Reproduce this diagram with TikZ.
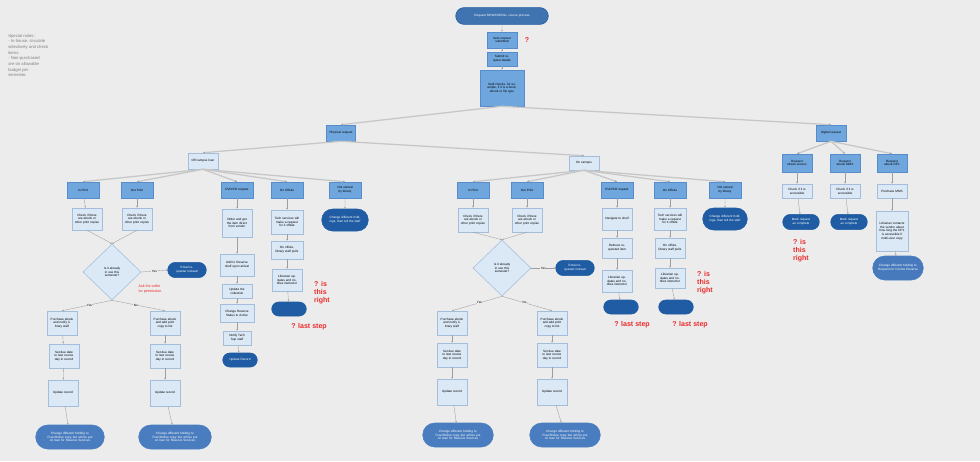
\documentclass[tikz,border=0pt]{standalone}
\usepackage{fontspec}
\setmainfont{Liberation Sans}
\usepackage{xcolor}
\usetikzlibrary{shapes.geometric}
\usetikzlibrary{shapes.misc}
\usetikzlibrary{arrows.meta}
\definecolor{paper}{rgb}{0.925,0.925,0.925}
\definecolor{catblue}{rgb}{0.44,0.65,0.87}
\definecolor{catedge}{rgb}{0.34,0.55,0.80}
\definecolor{stepfill}{rgb}{0.86,0.91,0.96}
\definecolor{stepedge}{rgb}{0.64,0.74,0.86}
\definecolor{darkpill}{rgb}{0.12,0.36,0.64}
\definecolor{midpill}{rgb}{0.29,0.49,0.75}
\definecolor{wire}{rgb}{0.62,0.62,0.62}
\definecolor{trunkgray}{rgb}{0.78,0.78,0.78}
\definecolor{askred}{rgb}{0.93,0.16,0.16}
\newcommand{\flowfont}{\fontsize{2.2}{2.7}\selectfont}
\tikzset{%
  catbox/.style={rectangle, draw=catedge, fill=catblue, font=\flowfont, align=center, text width=0.68cm, inner sep=0.5pt, minimum width=0.8cm, minimum height=0.4cm},
  stepbox/.style={rectangle, draw=stepedge, fill=stepfill, font=\flowfont, align=center, text width=0.66cm, inner sep=0.5pt, minimum width=0.75cm, minimum height=0.55cm},
  endpill/.style={rounded rectangle, draw=darkpill, fill=darkpill, text=white, font=\flowfont, align=center, text width=0.75cm, inner sep=0.5pt, minimum width=0.9cm, minimum height=0.35cm},
  bigpill/.style={rounded rectangle, draw=midpill, fill=midpill, text=white, font=\flowfont, align=center, text width=1.45cm, inner sep=0.5pt, minimum width=1.8cm, minimum height=0.6cm},
  decision/.style={diamond, draw=stepedge, fill=stepfill, font=\flowfont, align=center, text width=0.5cm, inner sep=0pt, minimum width=1.45cm, minimum height=1.4cm},
  branch/.style={font=\flowfont, fill=paper, inner sep=0.3pt},
  askmark/.style={text=askred, font=\fontsize{5}{5.6}\selectfont\bfseries, align=left, inner sep=0pt},
  flow/.style={draw=wire, line width=0.25pt, -{Stealth[length=1.3pt,width=1.1pt]}},
  trunk/.style={draw=trunkgray, line width=0.9pt, -{Stealth[length=1.6pt,width=1.4pt,color=wire]}}
}
\begin{document}
\begin{tikzpicture}[x=0.025cm, y=-0.025cm]
        \fill [paper] (0,0) rectangle (980,461);
        \useasboundingbox (0,0) rectangle (980,461);

        % note in the corner
        \node [anchor=north west, text=gray, font=\fontsize{3}{4}\selectfont, align=left, inner sep=0pt] (memo) at (8,34)
          {Special notes:\\- In-house, circulate\\selectively and check\\items.\\- Non-purchased\\are on allowable\\budget per\\semester.};

        % top of the tree
        \node [endpill, fill=darkpill!85!white, minimum width=2.35cm, minimum height=0.42cm, text width=2.1cm] (req) at (502,16) {Request ROW/CMS/ILL course process};
        \node [catbox, minimum width=0.75cm] (recv) at (502,40) {Item request submitted};
        \node [askmark] (askrecv) at (527,40) {?};
        \node [catbox, minimum width=0.75cm, minimum height=0.35cm] (subm) at (502,59) {Submit request details};
        \node [catbox, minimum width=1.1cm, minimum height=0.9cm, text width=0.95cm] (check) at (502,88) {Staff checks, for example, if it is a book, ebook or file type};
        \node [catbox, minimum width=0.7cm] (phys) at (341,133) {Physical request};
        \node [catbox, minimum width=0.75cm] (digi) at (831,133) {Digital request};

        % physical, off campus
        \node [stepbox, minimum height=0.4cm] (far) at (203,161) {Off campus loan};
        \node [catbox] (fprint) at (83,190) {In Print};
        \node [catbox] (fout) at (137,190) {Out Print};
        \node [catbox] (fdvd) at (237,190) {DVD/CD request};
        \node [catbox] (fsite) at (287,190) {On Offsite};
        \node [catbox] (fnone) at (345,190) {Not owned by library};

        \node [stepbox] (fprint1) at (87,219) {Check if there are ebook or other print copies};
        \node [stepbox] (fout1) at (137,219) {Check if there are ebook or other print copies};
        \node [decision] (fask) at (112,272) {Is it already in use this semester?};
        \node [endpill, minimum width=1.0cm, minimum height=0.38cm] (fmail) at (187,270) {Email requester instead};
        \node [text=askred, font=\fontsize{2.6}{3.8}\selectfont, align=left, inner sep=0pt] (fseller) at (150,289) {Ask the seller\\for permission};

        \node [stepbox, minimum height=0.6cm] (fl1) at (62,323) {Purchase ebook and notify library staff};
        \node [stepbox, minimum height=0.6cm] (fl2) at (64,356) {Set due date to last course day in record};
        \node [stepbox, minimum height=0.65cm] (fl3) at (63,393) {Update record};
        \node [bigpill, minimum width=1.75cm] (fl4) at (70,437) {Change different holding to Free/Online copy, but will be put on loan for Reserve Services};
        \node [stepbox, minimum height=0.6cm] (fr1) at (165,323) {Purchase ebook and add print copy to list};
        \node [stepbox, minimum height=0.6cm] (fr2) at (165,356) {Set due date to last course day in record};
        \node [stepbox, minimum height=0.65cm] (fr3) at (165,393) {Update record};
        \node [bigpill, minimum width=1.85cm] (fr4) at (175,437) {Change different holding to Free/Online copy, but will be put on loan for Reserve Services};

        \node [stepbox, minimum height=0.7cm] (fd1) at (237,223) {Order and get the item direct from vendor};
        \node [stepbox, minimum width=0.85cm, text width=0.75cm] (fd2) at (237,265) {Add to Reserve shelf upon arrival};
        \node [stepbox, minimum height=0.35cm] (fd3) at (237,291) {Update the collection};
        \node [stepbox, minimum width=0.85cm, text width=0.75cm, minimum height=0.45cm] (fd4) at (237,313) {Change Reserve Status to Active};
        \node [stepbox, minimum width=0.7cm, minimum height=0.35cm] (fd5) at (237,338) {Notify Tech Sup staff};
        \node [endpill] (fd6) at (240,360) {Update Record};

        \node [stepbox, minimum width=0.8cm, minimum height=0.6cm] (fs1) at (287,222) {Tech services will make a request for it offsite};
        \node [stepbox, minimum width=0.8cm, minimum height=0.45cm] (fs2) at (287,250) {On offsite, library staff pulls};
        \node [stepbox] (fs3) at (287,280) {Librarian updates and notifies instructor};
        \node [endpill] (fs4) at (289,309) {};
        \node [askmark] (fsright) at (322,293) {? is\\this\\right};
        \node [askmark] (fslast) at (309,327) {? last step};

        \node [endpill, minimum width=1.2cm, minimum height=0.55cm, text width=1.0cm] (fn1) at (345,220) {Change different holdings, then tell the staff};

        % physical, on campus
        \node [stepbox, minimum height=0.35cm] (near) at (584,163) {On campus};
        \node [catbox] (nprint) at (473,190) {In Print};
        \node [catbox] (nout) at (527,190) {Out Print};
        \node [catbox] (ndvd) at (617,190) {DVD/CD request};
        \node [catbox] (nsite) at (670,190) {On Offsite};
        \node [catbox] (nnone) at (725,190) {Not owned by library};

        \node [stepbox, minimum height=0.6cm] (nprint1) at (473,220) {Check if there are ebook or other print copies};
        \node [stepbox, minimum height=0.6cm] (nout1) at (527,220) {Check if there are ebook or other print copies};
        \node [decision] (nask) at (502,268) {Is it already in use this semester?};
        \node [endpill, minimum width=1.0cm, minimum height=0.38cm] (nmail) at (575,268) {Email requester instead};

        \node [stepbox, minimum height=0.6cm] (nl1) at (452,323) {Purchase ebook and notify library staff};
        \node [stepbox, minimum height=0.6cm] (nl2) at (452,355) {Set due date to last course day in record};
        \node [stepbox, minimum height=0.65cm] (nl3) at (452,392) {Update record};
        \node [bigpill] (nl4) at (458,435) {Change different holding to Free/Online copy, but will be put on loan for Reserve Services};
        \node [stepbox, minimum height=0.6cm] (nr1) at (552,323) {Purchase ebook and add print copy to list};
        \node [stepbox, minimum height=0.6cm] (nr2) at (552,355) {Set due date to last course day in record};
        \node [stepbox, minimum height=0.65cm] (nr3) at (552,392) {Update record};
        \node [bigpill] (nr4) at (565,435) {Change different holding to Free/Online copy, but will be put on loan for Reserve Services};

        \node [stepbox] (nd1) at (617,219) {Navigate to shelf};
        \node [stepbox, minimum height=0.5cm] (nd2) at (617,248) {Retrieve requested item};
        \node [stepbox] (nd3) at (617,281) {Librarian updates and notifies instructor};
        \node [endpill] (nd4) at (621,307) {};
        \node [askmark] (ndlast) at (632,325) {? last step};

        \node [stepbox, minimum width=0.8cm] (ns1) at (670,219) {Tech services will make a request for it offsite};
        \node [stepbox, minimum height=0.5cm] (ns2) at (670,248) {On offsite, library staff pulls};
        \node [stepbox, minimum height=0.5cm] (ns3) at (670,278) {Librarian updates and notifies instructor};
        \node [endpill] (ns4) at (676,307) {};
        \node [askmark] (nsright) at (705,283) {? is\\this\\right};
        \node [askmark] (nslast) at (690,325) {? last step};

        \node [endpill, minimum width=1.15cm, minimum height=0.55cm, text width=0.95cm] (nn1) at (725,219) {Change different holdings, then tell the staff};

        % digital
        \node [catbox, minimum width=0.75cm, minimum height=0.45cm] (debook) at (797,163) {Request ebook access};
        \node [catbox, minimum width=0.75cm, minimum height=0.45cm] (dmms) at (845,163) {Request ebook MMS};
        \node [catbox, minimum width=0.75cm, minimum height=0.45cm] (ddpl) at (892,163) {Request ebook DPL};
        \node [stepbox, minimum height=0.35cm] (debook1) at (797,191) {Check if it is accessible};
        \node [stepbox, minimum height=0.35cm] (dmms1) at (845,191) {Check if it is accessible};
        \node [stepbox, minimum height=0.35cm] (ddpl1) at (892,191) {Purchase MMS};
        \node [endpill, minimum width=0.95cm, minimum height=0.38cm] (debook2) at (801,222) {Mark request as complete};
        \node [endpill, minimum width=0.95cm, minimum height=0.38cm] (dmms2) at (849,222) {Mark request as complete};
        \node [askmark] (dright) at (801,251) {? is\\this\\right};
        \node [stepbox, minimum width=0.8cm, minimum height=1.0cm, text width=0.7cm] (ddpl2) at (892,231) {Librarian contacts the vendor about how long the DPL is accessible if multi-user copy};
        \node [bigpill, fill=midpill!90!darkpill, minimum width=1.3cm, text width=1.05cm] (ddpl3) at (898,268) {Change different holding to Request for Course Reserve};

        % tree branches
        \foreach \a/\b in {check/phys, check/digi, phys/far, phys/near,
                           far/fprint, far/fout, far/fdvd, far/fsite, far/fnone,
                           near/nprint, near/nout, near/ndvd, near/nsite, near/nnone,
                           digi/debook, digi/dmms, digi/ddpl}
          \draw [trunk] (\a.south) -- (\b.north);

        % steps down the columns
        \foreach \a/\b in {req/recv, recv/subm, subm/check,
                           fprint/fprint1, fout/fout1, fl1/fl2, fl2/fl3, fl3/fl4, fr1/fr2, fr2/fr3, fr3/fr4,
                           fdvd/fd1, fd1/fd2, fd2/fd3, fd3/fd4, fd4/fd5, fd5/fd6,
                           fsite/fs1, fs1/fs2, fs2/fs3, fs3/fs4, fnone/fn1,
                           nprint/nprint1, nout/nout1, nl1/nl2, nl2/nl3, nl3/nl4, nr1/nr2, nr2/nr3, nr3/nr4,
                           ndvd/nd1, nd1/nd2, nd2/nd3, nd3/nd4,
                           nsite/ns1, ns1/ns2, ns2/ns3, ns3/ns4, nnone/nn1,
                           debook/debook1, debook1/debook2, dmms/dmms1, dmms1/dmms2,
                           ddpl/ddpl1, ddpl1/ddpl2, ddpl2/ddpl3}
          \draw [flow] (\a) -- (\b);

        % the two decisions
        \draw [flow] (fprint1.south) -- (fask.north);
        \draw [flow] (fout1.south) -- (fask.north);
        \draw [flow] (fask.east) -- node [branch] {Yes} (fmail.west);
        \draw [flow] (fask.south) -- node [branch, pos=0.45] {Yes} (fl1.north);
        \draw [flow] (fask.south) -- node [branch, pos=0.45] {No} (fr1.north);
        \draw [flow] (nprint1.south) -- (nask.north);
        \draw [flow] (nout1.south) -- (nask.north);
        \draw [flow] (nask.east) -- node [branch] {Yes} (nmail.west);
        \draw [flow] (nask.south) -- node [branch, pos=0.45] {Yes} (nl1.north);
        \draw [flow] (nask.south) -- node [branch, pos=0.45] {No} (nr1.north);
    \end{tikzpicture}
\end{document}
